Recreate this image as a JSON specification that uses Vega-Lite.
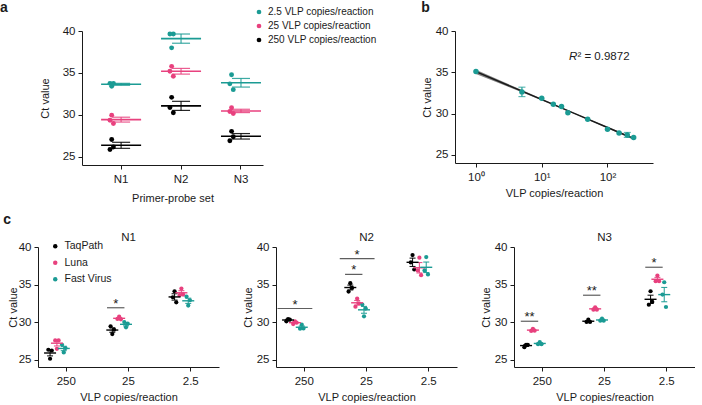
{
  "$schema": "https://vega.github.io/schema/vega-lite/v6.json",
  "padding": {"left": 0, "top": 1, "right": 0, "bottom": 0},
  "background": "#ffffff",
  "config": {
    "font": "Liberation Sans",
    "view": {"stroke": null},
    "axis": {"grid": false, "domainColor": "#1a1a1a", "tickColor": "#1a1a1a", "labelColor": "#1a1a1a", "titleColor": "#1a1a1a", "labelFontSize": 11.5, "titleFontSize": 11, "titleFontWeight": "normal", "tickSize": 4, "labelPadding": 3, "domainWidth": 1, "tickWidth": 1},
    "title": {"fontSize": 11.5, "fontWeight": "normal", "color": "#1a1a1a"},
    "legend": {"labelColor": "#1a1a1a", "padding": 0, "title": null}
  },
  "datasets": {
    "a": [
      {"primer": "N1", "conc": "2.5", "rep": 1, "ct": 33.75}, {"primer": "N1", "conc": "2.5", "rep": 2, "ct": 33.4}, {"primer": "N1", "conc": "2.5", "rep": 3, "ct": 33.75},
      {"primer": "N1", "conc": "25", "rep": 1, "ct": 29.35}, {"primer": "N1", "conc": "25", "rep": 2, "ct": 29.95}, {"primer": "N1", "conc": "25", "rep": 3, "ct": 28.95},
      {"primer": "N1", "conc": "250", "rep": 1, "ct": 25.85}, {"primer": "N1", "conc": "250", "rep": 2, "ct": 27.05}, {"primer": "N1", "conc": "250", "rep": 3, "ct": 26.15},
      {"primer": "N2", "conc": "2.5", "rep": 1, "ct": 39.64}, {"primer": "N2", "conc": "2.5", "rep": 2, "ct": 37.99}, {"primer": "N2", "conc": "2.5", "rep": 3, "ct": 39.64},
      {"primer": "N2", "conc": "25", "rep": 1, "ct": 35.2}, {"primer": "N2", "conc": "25", "rep": 2, "ct": 35.78}, {"primer": "N2", "conc": "25", "rep": 3, "ct": 34.6},
      {"primer": "N2", "conc": "250", "rep": 1, "ct": 30.87}, {"primer": "N2", "conc": "250", "rep": 2, "ct": 32.08}, {"primer": "N2", "conc": "250", "rep": 3, "ct": 30.23},
      {"primer": "N3", "conc": "2.5", "rep": 1, "ct": 33.69}, {"primer": "N3", "conc": "2.5", "rep": 2, "ct": 34.77}, {"primer": "N3", "conc": "2.5", "rep": 3, "ct": 33.0},
      {"primer": "N3", "conc": "25", "rep": 1, "ct": 30.39}, {"primer": "N3", "conc": "25", "rep": 2, "ct": 30.83}, {"primer": "N3", "conc": "25", "rep": 3, "ct": 30.15},
      {"primer": "N3", "conc": "250", "rep": 1, "ct": 26.89}, {"primer": "N3", "conc": "250", "rep": 2, "ct": 28.02}, {"primer": "N3", "conc": "250", "rep": 3, "ct": 27.37}
    ],
    "b": [
      {"copies": 1, "ct": 35.1}, {"copies": 5, "ct": 32.62, "lo": 32.05, "hi": 33.19}, {"copies": 10, "ct": 31.85},
      {"copies": 15, "ct": 31.12}, {"copies": 20, "ct": 30.84}, {"copies": 25, "ct": 30.1}, {"copies": 50, "ct": 29.3},
      {"copies": 100, "ct": 28.08}, {"copies": 150, "ct": 27.64}, {"copies": 200, "ct": 27.4, "lo": 27.1, "hi": 27.7}, {"copies": 250, "ct": 27.1}
    ],
    "bfit": [
      {"copies": 1, "fit": 35.08, "lo": 34.8, "hi": 35.3},
      {"copies": 5, "fit": 32.71, "lo": 32.58, "hi": 32.84},
      {"copies": 30, "fit": 30.07, "lo": 30.02, "hi": 30.12},
      {"copies": 100, "fit": 28.3, "lo": 28.22, "hi": 28.38},
      {"copies": 250, "fit": 26.96, "lo": 26.82, "hi": 27.1}
    ],
    "c": [
      {"primer": "N1", "conc": "250", "kit": "TaqPath", "rep": 1, "ct": 26.3}, {"primer": "N1", "conc": "250", "kit": "TaqPath", "rep": 2, "ct": 25.1}, {"primer": "N1", "conc": "250", "kit": "TaqPath", "rep": 3, "ct": 26.2},
      {"primer": "N1", "conc": "250", "kit": "Luna", "rep": 1, "ct": 27.55}, {"primer": "N1", "conc": "250", "kit": "Luna", "rep": 2, "ct": 26.43}, {"primer": "N1", "conc": "250", "kit": "Luna", "rep": 3, "ct": 27.55},
      {"primer": "N1", "conc": "250", "kit": "Fast Virus", "rep": 1, "ct": 26.96}, {"primer": "N1", "conc": "250", "kit": "Fast Virus", "rep": 2, "ct": 25.94}, {"primer": "N1", "conc": "250", "kit": "Fast Virus", "rep": 3, "ct": 26.52},
      {"primer": "N1", "conc": "25", "kit": "TaqPath", "rep": 1, "ct": 29.42}, {"primer": "N1", "conc": "25", "kit": "TaqPath", "rep": 2, "ct": 28.39}, {"primer": "N1", "conc": "25", "kit": "TaqPath", "rep": 3, "ct": 28.97},
      {"primer": "N1", "conc": "25", "kit": "Luna", "rep": 1, "ct": 30.4}, {"primer": "N1", "conc": "25", "kit": "Luna", "rep": 2, "ct": 30.71}, {"primer": "N1", "conc": "25", "kit": "Luna", "rep": 3, "ct": 30.36},
      {"primer": "N1", "conc": "25", "kit": "Fast Virus", "rep": 1, "ct": 30.0}, {"primer": "N1", "conc": "25", "kit": "Fast Virus", "rep": 2, "ct": 29.29}, {"primer": "N1", "conc": "25", "kit": "Fast Virus", "rep": 3, "ct": 29.78},
      {"primer": "N1", "conc": "2.5", "kit": "TaqPath", "rep": 1, "ct": 33.3}, {"primer": "N1", "conc": "2.5", "kit": "TaqPath", "rep": 2, "ct": 34.1}, {"primer": "N1", "conc": "2.5", "kit": "TaqPath", "rep": 3, "ct": 32.63},
      {"primer": "N1", "conc": "2.5", "kit": "Luna", "rep": 1, "ct": 33.57}, {"primer": "N1", "conc": "2.5", "kit": "Luna", "rep": 2, "ct": 34.46}, {"primer": "N1", "conc": "2.5", "kit": "Luna", "rep": 3, "ct": 33.66},
      {"primer": "N1", "conc": "2.5", "kit": "Fast Virus", "rep": 1, "ct": 33.39}, {"primer": "N1", "conc": "2.5", "kit": "Fast Virus", "rep": 2, "ct": 32.19}, {"primer": "N1", "conc": "2.5", "kit": "Fast Virus", "rep": 3, "ct": 32.9},
      {"primer": "N2", "conc": "250", "kit": "TaqPath", "rep": 1, "ct": 30.09}, {"primer": "N2", "conc": "250", "kit": "TaqPath", "rep": 2, "ct": 30.4}, {"primer": "N2", "conc": "250", "kit": "TaqPath", "rep": 3, "ct": 30.31},
      {"primer": "N2", "conc": "250", "kit": "Luna", "rep": 1, "ct": 29.73}, {"primer": "N2", "conc": "250", "kit": "Luna", "rep": 2, "ct": 30.09}, {"primer": "N2", "conc": "250", "kit": "Luna", "rep": 3, "ct": 29.91},
      {"primer": "N2", "conc": "250", "kit": "Fast Virus", "rep": 1, "ct": 29.11}, {"primer": "N2", "conc": "250", "kit": "Fast Virus", "rep": 2, "ct": 29.64}, {"primer": "N2", "conc": "250", "kit": "Fast Virus", "rep": 3, "ct": 29.15},
      {"primer": "N2", "conc": "25", "kit": "TaqPath", "rep": 1, "ct": 34.06}, {"primer": "N2", "conc": "25", "kit": "TaqPath", "rep": 2, "ct": 35.18}, {"primer": "N2", "conc": "25", "kit": "TaqPath", "rep": 3, "ct": 34.55},
      {"primer": "N2", "conc": "25", "kit": "Luna", "rep": 1, "ct": 32.05}, {"primer": "N2", "conc": "25", "kit": "Luna", "rep": 2, "ct": 33.13}, {"primer": "N2", "conc": "25", "kit": "Luna", "rep": 3, "ct": 32.5},
      {"primer": "N2", "conc": "25", "kit": "Fast Virus", "rep": 1, "ct": 32.32}, {"primer": "N2", "conc": "25", "kit": "Fast Virus", "rep": 2, "ct": 30.76}, {"primer": "N2", "conc": "25", "kit": "Fast Virus", "rep": 3, "ct": 31.79},
      {"primer": "N2", "conc": "2.5", "kit": "TaqPath", "rep": 1, "ct": 37.95}, {"primer": "N2", "conc": "2.5", "kit": "TaqPath", "rep": 2, "ct": 38.93}, {"primer": "N2", "conc": "2.5", "kit": "TaqPath", "rep": 3, "ct": 37.0},
      {"primer": "N2", "conc": "2.5", "kit": "Luna", "rep": 1, "ct": 36.88}, {"primer": "N2", "conc": "2.5", "kit": "Luna", "rep": 2, "ct": 38.57}, {"primer": "N2", "conc": "2.5", "kit": "Luna", "rep": 3, "ct": 36.25},
      {"primer": "N2", "conc": "2.5", "kit": "Fast Virus", "rep": 1, "ct": 36.88}, {"primer": "N2", "conc": "2.5", "kit": "Fast Virus", "rep": 2, "ct": 38.66}, {"primer": "N2", "conc": "2.5", "kit": "Fast Virus", "rep": 3, "ct": 36.34},
      {"primer": "N3", "conc": "250", "kit": "TaqPath", "rep": 1, "ct": 26.65}, {"primer": "N3", "conc": "250", "kit": "TaqPath", "rep": 2, "ct": 26.96}, {"primer": "N3", "conc": "250", "kit": "TaqPath", "rep": 3, "ct": 26.96},
      {"primer": "N3", "conc": "250", "kit": "Luna", "rep": 1, "ct": 28.8}, {"primer": "N3", "conc": "250", "kit": "Luna", "rep": 2, "ct": 29.1}, {"primer": "N3", "conc": "250", "kit": "Luna", "rep": 3, "ct": 28.85},
      {"primer": "N3", "conc": "250", "kit": "Fast Virus", "rep": 1, "ct": 27.05}, {"primer": "N3", "conc": "250", "kit": "Fast Virus", "rep": 2, "ct": 27.32}, {"primer": "N3", "conc": "250", "kit": "Fast Virus", "rep": 3, "ct": 27.05},
      {"primer": "N3", "conc": "25", "kit": "TaqPath", "rep": 1, "ct": 30.0}, {"primer": "N3", "conc": "25", "kit": "TaqPath", "rep": 2, "ct": 30.31}, {"primer": "N3", "conc": "25", "kit": "TaqPath", "rep": 3, "ct": 30.0},
      {"primer": "N3", "conc": "25", "kit": "Luna", "rep": 1, "ct": 31.65}, {"primer": "N3", "conc": "25", "kit": "Luna", "rep": 2, "ct": 31.96}, {"primer": "N3", "conc": "25", "kit": "Luna", "rep": 3, "ct": 31.65},
      {"primer": "N3", "conc": "25", "kit": "Fast Virus", "rep": 1, "ct": 30.18}, {"primer": "N3", "conc": "25", "kit": "Fast Virus", "rep": 2, "ct": 30.45}, {"primer": "N3", "conc": "25", "kit": "Fast Virus", "rep": 3, "ct": 30.18},
      {"primer": "N3", "conc": "2.5", "kit": "TaqPath", "rep": 1, "ct": 32.3}, {"primer": "N3", "conc": "2.5", "kit": "TaqPath", "rep": 2, "ct": 34.1}, {"primer": "N3", "conc": "2.5", "kit": "TaqPath", "rep": 3, "ct": 32.68},
      {"primer": "N3", "conc": "2.5", "kit": "Luna", "rep": 1, "ct": 35.45}, {"primer": "N3", "conc": "2.5", "kit": "Luna", "rep": 2, "ct": 36.2}, {"primer": "N3", "conc": "2.5", "kit": "Luna", "rep": 3, "ct": 35.45},
      {"primer": "N3", "conc": "2.5", "kit": "Fast Virus", "rep": 1, "ct": 33.66}, {"primer": "N3", "conc": "2.5", "kit": "Fast Virus", "rep": 2, "ct": 35.3}, {"primer": "N3", "conc": "2.5", "kit": "Fast Virus", "rep": 3, "ct": 32.0}
    ],
    "sig": [
      {"primer": "N1", "conc": "25", "pair": "TL", "ct": 31.9, "label": "*"},
      {"primer": "N2", "conc": "250", "pair": "TF", "ct": 31.8, "label": "*"},
      {"primer": "N2", "conc": "25", "pair": "TL", "ct": 36.35, "label": "*"},
      {"primer": "N2", "conc": "25", "pair": "TF", "ct": 38.45, "label": "*"},
      {"primer": "N3", "conc": "250", "pair": "TL", "ct": 30.1, "label": "**"},
      {"primer": "N3", "conc": "25", "pair": "TL", "ct": 33.57, "label": "**"},
      {"primer": "N3", "conc": "2.5", "pair": "TL", "ct": 37.3, "label": "*"}
    ]
  },
  "resolve": {"scale": {"color": "independent"}, "legend": {"color": "independent"}},
  "spacing": 8,
  "vconcat": [
    {
      "spacing": 0,
      "resolve": {"scale": {"color": "independent"}, "legend": {"color": "independent"}},
      "hconcat": [
        {
          "width": 1, "height": 1,
          "title": {"text": "a", "anchor": "start", "frame": "bounds", "fontSize": 14, "fontWeight": "bold", "dx": -38, "offset": 16},
          "data": {"name": "bfit"},
          "transform": [{"filter": "datum.copies === 30"}],
          "mark": {"type": "point", "opacity": 0, "size": 1}
        },
        {
          "spacing": 44,
          "resolve": {"scale": {"color": "independent"}, "legend": {"color": "independent"}},
          "hconcat": [
            {
              "width": 181, "height": 134,
              "data": {"name": "a"},
              "encoding": {
                "x": {"field": "primer", "type": "nominal", "scale": {"paddingInner": 0.6, "paddingOuter": 0.31, "align": 0.73}, "axis": {"title": "Primer-probe set", "labelAngle": 0, "labelPadding": 4, "titlePadding": 8}},
                "y": {"field": "ct", "type": "quantitative", "scale": {"domain": [24, 40], "nice": false, "zero": false}, "axis": {"values": [25, 30, 35, 40], "title": "Ct value", "titlePadding": 12}},
                "color": {"field": "conc", "type": "nominal", "scale": {"domain": ["2.5", "25", "250"], "range": ["#1b9b94", "#e8417e", "#000000"]}, "legend": {"orient": "none", "legendX": 172, "legendY": -24, "labelFontSize": 10, "symbolSize": 22, "rowPadding": 4, "labelOffset": 4, "symbolStrokeWidth": 0, "labelExpr": "datum.label + ' VLP copies/reaction'"}}
              },
              "layer": [
                {"mark": {"type": "circle", "size": 24, "opacity": 1}, "encoding": {"xOffset": {"field": "rep", "type": "nominal", "scale": {"domain": [1, 2, 3]}}}},
                {"mark": {"type": "errorbar", "extent": "stderr", "ticks": true, "size": 18, "thickness": 1.2, "opacity": 0.85}},
                {"mark": {"type": "tick", "size": 40, "thickness": 1.6}, "encoding": {"y": {"aggregate": "mean", "field": "ct", "type": "quantitative"}}}
              ]
            },
            {
              "width": 198, "height": 132,
              "title": {"text": "b", "anchor": "start", "frame": "bounds", "fontSize": 14, "fontWeight": "bold", "offset": 10},
              "encoding": {
                "x": {"field": "copies", "type": "quantitative", "scale": {"type": "log", "domain": [0.48, 492], "nice": false}, "axis": {"values": [1, 10, 100], "labelExpr": "datum.value === 1 ? '10⁰' : datum.value === 10 ? '10¹' : '10²'", "title": "VLP copies/reaction", "labelPadding": 4, "titlePadding": 5}},
                "y": {"type": "quantitative", "scale": {"domain": [24, 40], "nice": false, "zero": false}, "axis": {"values": [25, 30, 35, 40], "title": "Ct value", "titlePadding": 3}}
              },
              "layer": [
                {"data": {"name": "bfit"}, "mark": {"type": "area", "color": "#4d4d4d", "opacity": 0.7}, "encoding": {"y": {"field": "lo", "type": "quantitative"}, "y2": {"field": "hi"}}},
                {"data": {"name": "bfit"}, "mark": {"type": "line", "color": "#1a1a1a", "strokeWidth": 1.5}, "encoding": {"y": {"field": "fit", "type": "quantitative"}}},
                {"data": {"name": "b"}, "transform": [{"filter": "isValid(datum.lo)"}], "mark": {"type": "errorbar", "ticks": true, "size": 7, "thickness": 1.2, "color": "#1b9b94"}, "encoding": {"y": {"field": "lo", "type": "quantitative"}, "y2": {"field": "hi"}}},
                {"data": {"name": "b"}, "mark": {"type": "circle", "size": 30, "color": "#1b9b94", "opacity": 1}, "encoding": {"y": {"field": "ct", "type": "quantitative"}}},
                {"data": {"name": "bfit"}, "transform": [{"filter": "datum.copies === 30"}],
                 "mark": {"type": "text", "text": "R", "fontStyle": "italic", "fontSize": 11.5, "align": "right", "baseline": "middle", "color": "#1a1a1a"},
                 "encoding": {"x": {"datum": 34.9, "type": "quantitative"}, "y": {"datum": 36.85, "type": "quantitative"}}},
                {"data": {"name": "bfit"}, "transform": [{"filter": "datum.copies === 30"}],
                 "mark": {"type": "text", "text": "² = 0.9872", "fontSize": 11.5, "align": "left", "baseline": "middle", "color": "#1a1a1a"},
                 "encoding": {"x": {"datum": 34.9, "type": "quantitative"}, "y": {"datum": 36.85, "type": "quantitative"}}}
              ]
            }
          ]
        }
      ]
    },
    {
      "title": {"text": "c", "anchor": "start", "fontSize": 14, "fontWeight": "bold", "dx": -4, "offset": 5},
      "spacing": 23,
      "resolve": {"scale": {"color": "independent"}, "legend": {"color": "independent"}},
      "hconcat": [
        {
          "width": 181, "height": 120,
          "title": {"text": "N1", "offset": -2},
          "encoding": {
            "x": {"field": "conc", "type": "nominal", "sort": ["250", "25", "2.5"], "scale": {"domain": ["250", "25", "2.5"], "paddingInner": 0.232, "paddingOuter": 0.07}, "axis": {"title": "VLP copies/reaction", "labelAngle": 0, "labelPadding": 4, "titlePadding": 5}},
            "y": {"field": "ct", "type": "quantitative", "scale": {"domain": [24, 40], "nice": false, "zero": false}, "axis": {"values": [25, 30, 35, 40], "title": "Ct value", "titlePadding": 0}}
          },
          "layer": [
            {"data": {"name": "c"}, "transform": [{"filter": "datum.primer === 'N1'"}, {"calculate": "(datum.kit === 'TaqPath' ? 'T' : datum.kit === 'Luna' ? 'L' : 'F') + datum.rep", "as": "slot"}],
             "mark": {"type": "circle", "size": 18, "opacity": 1},
             "encoding": {"xOffset": {"field": "slot", "type": "nominal", "scale": {"domain": ["T1", "T2", "T3", "TL", "L1", "L2", "L3", "LF", "F1", "F2", "F3"], "paddingInner": 0, "paddingOuter": 0}},
               "color": {"field": "kit", "type": "nominal", "scale": {"domain": ["TaqPath", "Luna", "Fast Virus"], "range": ["#000000", "#e8417e", "#1b9b94"]}, "legend": {"orient": "none", "legendX": 12, "legendY": -6, "labelFontSize": 10.5, "symbolSize": 20, "rowPadding": 5.5, "labelOffset": 4, "symbolStrokeWidth": 0}}}},
            {"data": {"name": "c"}, "transform": [{"filter": "datum.primer === 'N1'"}, {"calculate": "(datum.kit === 'TaqPath' ? 'T' : datum.kit === 'Luna' ? 'L' : 'F') + '2'", "as": "slot"}],
             "mark": {"type": "errorbar", "extent": "stderr", "ticks": true, "size": 6, "thickness": 1.1, "opacity": 0.9},
             "encoding": {"xOffset": {"field": "slot", "type": "nominal"}, "color": {"field": "kit", "type": "nominal", "legend": null}}},
            {"data": {"name": "c"}, "transform": [{"filter": "datum.primer === 'N1'"}, {"calculate": "(datum.kit === 'TaqPath' ? 'T' : datum.kit === 'Luna' ? 'L' : 'F') + '2'", "as": "slot"}],
             "mark": {"type": "tick", "size": 12, "thickness": 1.4},
             "encoding": {"xOffset": {"field": "slot", "type": "nominal"}, "y": {"aggregate": "mean", "field": "ct", "type": "quantitative"}, "color": {"field": "kit", "type": "nominal", "legend": null}}},
            {"data": {"name": "sig"}, "transform": [{"filter": "datum.primer === 'N1' && datum.pair === 'TL'"}, {"calculate": "'TL'", "as": "slot"}],
             "mark": {"type": "tick", "size": 17.4, "thickness": 1.2, "color": "#1a1a1a"}, "encoding": {"xOffset": {"field": "slot", "type": "nominal"}}},
            {"data": {"name": "sig"}, "transform": [{"filter": "datum.primer === 'N1' && datum.pair === 'TF'"}, {"calculate": "'L2'", "as": "slot"}],
             "mark": {"type": "tick", "size": 34.8, "thickness": 1.2, "color": "#1a1a1a"}, "encoding": {"xOffset": {"field": "slot", "type": "nominal"}}},
            {"data": {"name": "sig"}, "transform": [{"filter": "datum.primer === 'N1'"}, {"calculate": "datum.pair === 'TL' ? 'TL' : 'L2'", "as": "slot"}],
             "mark": {"type": "text", "fontSize": 13, "baseline": "alphabetic", "color": "#1a1a1a"}, "encoding": {"xOffset": {"field": "slot", "type": "nominal"}, "text": {"field": "label"}}}
          ]
        },
        {
          "width": 181, "height": 120,
          "title": {"text": "N2", "offset": -2},
          "encoding": {
            "x": {"field": "conc", "type": "nominal", "sort": ["250", "25", "2.5"], "scale": {"domain": ["250", "25", "2.5"], "paddingInner": 0.232, "paddingOuter": 0.07}, "axis": {"title": "VLP copies/reaction", "labelAngle": 0, "labelPadding": 4, "titlePadding": 5}},
            "y": {"field": "ct", "type": "quantitative", "scale": {"domain": [24, 40], "nice": false, "zero": false}, "axis": {"values": [25, 30, 35, 40], "title": "Ct value", "titlePadding": 3}}
          },
          "layer": [
            {"data": {"name": "c"}, "transform": [{"filter": "datum.primer === 'N2'"}, {"calculate": "(datum.kit === 'TaqPath' ? 'T' : datum.kit === 'Luna' ? 'L' : 'F') + datum.rep", "as": "slot"}],
             "mark": {"type": "circle", "size": 18, "opacity": 1},
             "encoding": {"xOffset": {"field": "slot", "type": "nominal", "scale": {"domain": ["T1", "T2", "T3", "TL", "L1", "L2", "L3", "LF", "F1", "F2", "F3"], "paddingInner": 0, "paddingOuter": 0}},
               "color": {"field": "kit", "type": "nominal", "scale": {"domain": ["TaqPath", "Luna", "Fast Virus"], "range": ["#000000", "#e8417e", "#1b9b94"]}, "legend": null}}},
            {"data": {"name": "c"}, "transform": [{"filter": "datum.primer === 'N2'"}, {"calculate": "(datum.kit === 'TaqPath' ? 'T' : datum.kit === 'Luna' ? 'L' : 'F') + '2'", "as": "slot"}],
             "mark": {"type": "errorbar", "extent": "stderr", "ticks": true, "size": 6, "thickness": 1.1, "opacity": 0.9},
             "encoding": {"xOffset": {"field": "slot", "type": "nominal"}, "color": {"field": "kit", "type": "nominal", "legend": null}}},
            {"data": {"name": "c"}, "transform": [{"filter": "datum.primer === 'N2'"}, {"calculate": "(datum.kit === 'TaqPath' ? 'T' : datum.kit === 'Luna' ? 'L' : 'F') + '2'", "as": "slot"}],
             "mark": {"type": "tick", "size": 12, "thickness": 1.4},
             "encoding": {"xOffset": {"field": "slot", "type": "nominal"}, "y": {"aggregate": "mean", "field": "ct", "type": "quantitative"}, "color": {"field": "kit", "type": "nominal", "legend": null}}},
            {"data": {"name": "sig"}, "transform": [{"filter": "datum.primer === 'N2' && datum.pair === 'TL'"}, {"calculate": "'TL'", "as": "slot"}],
             "mark": {"type": "tick", "size": 17.4, "thickness": 1.2, "color": "#1a1a1a"}, "encoding": {"xOffset": {"field": "slot", "type": "nominal"}}},
            {"data": {"name": "sig"}, "transform": [{"filter": "datum.primer === 'N2' && datum.pair === 'TF'"}, {"calculate": "'L2'", "as": "slot"}],
             "mark": {"type": "tick", "size": 34.8, "thickness": 1.2, "color": "#1a1a1a"}, "encoding": {"xOffset": {"field": "slot", "type": "nominal"}}},
            {"data": {"name": "sig"}, "transform": [{"filter": "datum.primer === 'N2'"}, {"calculate": "datum.pair === 'TL' ? 'TL' : 'L2'", "as": "slot"}],
             "mark": {"type": "text", "fontSize": 13, "baseline": "alphabetic", "color": "#1a1a1a"}, "encoding": {"xOffset": {"field": "slot", "type": "nominal"}, "text": {"field": "label"}}}
          ]
        },
        {
          "width": 181, "height": 120,
          "title": {"text": "N3", "offset": -2},
          "encoding": {
            "x": {"field": "conc", "type": "nominal", "sort": ["250", "25", "2.5"], "scale": {"domain": ["250", "25", "2.5"], "paddingInner": 0.232, "paddingOuter": 0.07}, "axis": {"title": "VLP copies/reaction", "labelAngle": 0, "labelPadding": 4, "titlePadding": 5}},
            "y": {"field": "ct", "type": "quantitative", "scale": {"domain": [24, 40], "nice": false, "zero": false}, "axis": {"values": [25, 30, 35, 40], "title": "Ct value", "titlePadding": 3}}
          },
          "layer": [
            {"data": {"name": "c"}, "transform": [{"filter": "datum.primer === 'N3'"}, {"calculate": "(datum.kit === 'TaqPath' ? 'T' : datum.kit === 'Luna' ? 'L' : 'F') + datum.rep", "as": "slot"}],
             "mark": {"type": "circle", "size": 18, "opacity": 1},
             "encoding": {"xOffset": {"field": "slot", "type": "nominal", "scale": {"domain": ["T1", "T2", "T3", "TL", "L1", "L2", "L3", "LF", "F1", "F2", "F3"], "paddingInner": 0, "paddingOuter": 0}},
               "color": {"field": "kit", "type": "nominal", "scale": {"domain": ["TaqPath", "Luna", "Fast Virus"], "range": ["#000000", "#e8417e", "#1b9b94"]}, "legend": null}}},
            {"data": {"name": "c"}, "transform": [{"filter": "datum.primer === 'N3'"}, {"calculate": "(datum.kit === 'TaqPath' ? 'T' : datum.kit === 'Luna' ? 'L' : 'F') + '2'", "as": "slot"}],
             "mark": {"type": "errorbar", "extent": "stderr", "ticks": true, "size": 6, "thickness": 1.1, "opacity": 0.9},
             "encoding": {"xOffset": {"field": "slot", "type": "nominal"}, "color": {"field": "kit", "type": "nominal", "legend": null}}},
            {"data": {"name": "c"}, "transform": [{"filter": "datum.primer === 'N3'"}, {"calculate": "(datum.kit === 'TaqPath' ? 'T' : datum.kit === 'Luna' ? 'L' : 'F') + '2'", "as": "slot"}],
             "mark": {"type": "tick", "size": 12, "thickness": 1.4},
             "encoding": {"xOffset": {"field": "slot", "type": "nominal"}, "y": {"aggregate": "mean", "field": "ct", "type": "quantitative"}, "color": {"field": "kit", "type": "nominal", "legend": null}}},
            {"data": {"name": "sig"}, "transform": [{"filter": "datum.primer === 'N3' && datum.pair === 'TL'"}, {"calculate": "'TL'", "as": "slot"}],
             "mark": {"type": "tick", "size": 17.4, "thickness": 1.2, "color": "#1a1a1a"}, "encoding": {"xOffset": {"field": "slot", "type": "nominal"}}},
            {"data": {"name": "sig"}, "transform": [{"filter": "datum.primer === 'N3' && datum.pair === 'TF'"}, {"calculate": "'L2'", "as": "slot"}],
             "mark": {"type": "tick", "size": 34.8, "thickness": 1.2, "color": "#1a1a1a"}, "encoding": {"xOffset": {"field": "slot", "type": "nominal"}}},
            {"data": {"name": "sig"}, "transform": [{"filter": "datum.primer === 'N3'"}, {"calculate": "datum.pair === 'TL' ? 'TL' : 'L2'", "as": "slot"}],
             "mark": {"type": "text", "fontSize": 13, "baseline": "alphabetic", "color": "#1a1a1a"}, "encoding": {"xOffset": {"field": "slot", "type": "nominal"}, "text": {"field": "label"}}}
          ]
        }
      ]
    }
  ]
}
